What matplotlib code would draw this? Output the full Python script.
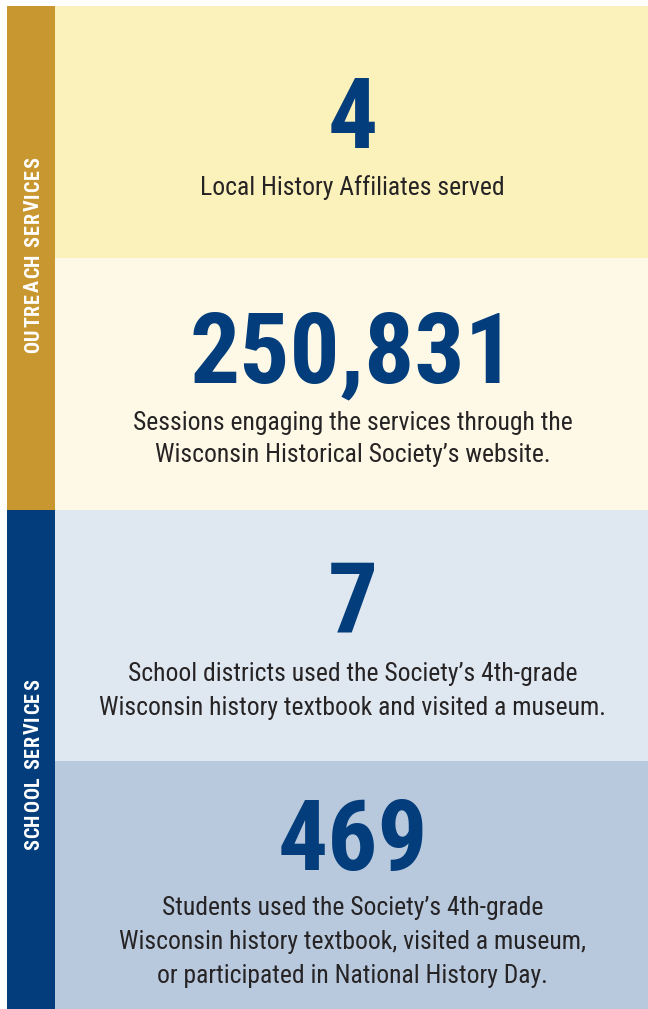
import matplotlib
matplotlib.use('Agg')
import matplotlib.pyplot as plt
from matplotlib import font_manager as fm
from matplotlib.patches import Rectangle
from matplotlib.font_manager import FontProperties

# Datos de la infografia
section_labels = ['OUTREACH SERVICES', 'SCHOOL SERVICES']
stat_values = [4, 250831, 7, 469]
stat_captions = [
    ['Local History Affiliates served'],
    ['Sessions engaging the services through the',
     'Wisconsin Historical Society\u2019s website.'],
    ['School districts used the Society\u2019s 4th-grade',
     'Wisconsin history textbook and visited a museum.'],
    ['Students used the Society\u2019s 4th-grade',
     'Wisconsin history textbook, visited a museum,',
     'or participated in National History Day.'],
]

W, H = 648, 1009
names = {f.name for f in fm.fontManager.ttflist}


def pick(cands):
    for c in cands:
        if c in names:
            return c
    return 'DejaVu Sans'


narrow = pick(['Roboto Condensed', 'Archivo Narrow', 'PT Sans Narrow',
               'Liberation Sans Narrow', 'Liberation Sans'])

navy = '#033d7b'
gold = '#c8972f'
panel_colors = ['#fbf1ba', '#fdf9e6', '#dfe7f1', '#b8c9de']
text_dark = '#262324'

fig = plt.figure(figsize=(W / 100, H / 100), dpi=100)
ax = fig.add_axes([0, 0, 1, 1])
ax.set_xlim(0, W)
ax.set_ylim(H, 0)
ax.axis('off')
renderer = fig.canvas.get_renderer()


def text_w(s, prop):
    w, h, d = renderer.get_text_width_height_descent(s, prop, ismath=False)
    return w


def fit_size(s, target_px, weight='normal'):
    # tamano de letra para que el texto ocupe target_px de ancho
    p = FontProperties(family=narrow, weight=weight, size=10)
    return 10 * target_px / text_w(s, p)


# barra lateral y paneles
side_x0, side_x1 = 7, 55
top = 6
panel_edges = [top, 258, 510, 761, H]
ax.add_patch(Rectangle((side_x0, top), side_x1 - side_x0, 510 - top, color=gold, lw=0))
ax.add_patch(Rectangle((side_x0, 510), side_x1 - side_x0, H - 510, color=navy, lw=0))
for i in range(4):
    y0, y1 = panel_edges[i], panel_edges[i + 1]
    ax.add_patch(Rectangle((side_x1, y0), W - side_x1, y1 - y0, color=panel_colors[i], lw=0))

cx = (side_x1 + W) / 2 + 1

num_size = fit_size('250,831', 326, 'bold')
cap_size = fit_size(stat_captions[1][0], 436)

# numeros y textos
num_baselines = [148, 382, 633, 870]
cap_baselines = [[195], [430, 462], [681, 715], [915, 949, 983]]
for i in range(4):
    ax.text(cx, num_baselines[i], f'{stat_values[i]:,}', ha='center', va='baseline',
            fontsize=num_size, fontweight='bold', family=narrow, color=navy)
    for line, yb in zip(stat_captions[i], cap_baselines[i]):
        ax.text(cx, yb, line, ha='center', va='baseline', fontsize=cap_size,
                family=narrow, color=text_dark)

# etiquetas verticales con espaciado entre letras
prop = FontProperties(family=narrow, weight='bold', size=14.5)


def advance(c):
    if c == ' ':
        return text_w('O O', prop) - text_w('OO', prop)
    return text_w(c, prop)


def spaced_vertical(label, xbase, ymid, length):
    adv = [advance(c) for c in label]
    tracking = (length - sum(adv)) / (len(label) - 1)
    y = ymid + length / 2
    for c, a in zip(label, adv):
        if c != ' ':
            ax.text(xbase, y, c, rotation=90, rotation_mode='anchor', ha='left',
                    va='baseline', fontproperties=prop, color='white')
        y -= a + tracking
    return tracking


trk = spaced_vertical(section_labels[0], 39, 255, 196)
adv2 = sum(advance(c) for c in section_labels[1]) + trk * (len(section_labels[1]) - 1)
spaced_vertical(section_labels[1], 39, 765, adv2)

fig.savefig('out.png', dpi=100)
